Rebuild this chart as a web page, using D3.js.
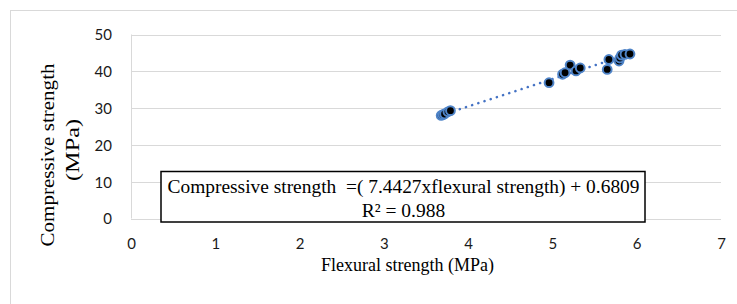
<!DOCTYPE html>
<html><head><meta charset="utf-8">
<script src="https://cdn.jsdelivr.net/npm/d3@7"></script>
<style>body{margin:0;background:#fff}svg{display:block}</style>
</head><body>
<script>
const flexural = [3.68, 3.70, 3.72, 3.76, 3.79, 4.96, 5.12, 5.15, 5.21, 5.28, 5.33, 5.65, 5.67, 5.79, 5.80, 5.82, 5.86, 5.92];
const compressive = [28.0, 28.2, 28.4, 29.0, 29.3, 36.9, 39.2, 39.6, 41.7, 40.1, 40.9, 40.5, 43.2, 42.8, 43.6, 44.4, 44.6, 44.7];
const xTicks = [0, 1, 2, 3, 4, 5, 6, 7];
const yTicks = [0, 10, 20, 30, 40, 50];
const slope = 7.4427, intercept = 0.6809;
const eqLine1 = "Compressive strength  =( 7.4427xflexural strength) + 0.6809";
const eqLine2 = "R² = 0.988";

const W = 737, H = 304;
const svg = d3.select("body").append("svg").attr("width", W).attr("height", H);
svg.append("rect").attr("x", 10.5).attr("y", 10.5).attr("width", W).attr("height", H)
  .attr("fill", "#fff").attr("stroke", "#d9d9d9");

const x = d3.scaleLinear().domain([0, 7]).range([131, 721]);
const y = d3.scaleLinear().domain([0, 50]).range([218.5, 34.5]);
const sans = "Lato, 'Open Sans', sans-serif";
const serif = "'Liberation Serif', 'Times New Roman', serif";

// gridlines
svg.append("g").selectAll("line").data(yTicks).join("line")
  .attr("x1", x(0)).attr("x2", x(7)).attr("y1", d => Math.round(y(d)) + 0.5).attr("y2", d => Math.round(y(d)) + 0.5)
  .attr("stroke", "#d9d9d9").attr("stroke-width", 1);
svg.append("line").attr("x1", x(0) + 0.5).attr("x2", x(0) + 0.5).attr("y1", y(50)).attr("y2", y(0))
  .attr("stroke", "#d9d9d9");

// axis labels via d3 axes
const yAxis = svg.append("g").attr("transform", `translate(${x(0) - 19},0)`)
  .call(d3.axisLeft(y).tickValues(yTicks).tickFormat(d3.format("d")).tickSize(0).tickPadding(0));
yAxis.select(".domain").remove();
yAxis.selectAll("text").attr("font-family", sans).attr("font-size", 15).attr("fill", "#1a1a1a").attr("dy", "0.36em");

const xAxis = svg.append("g").attr("transform", `translate(0,${y(0) + 19.5})`)
  .call(d3.axisBottom(x).tickValues(xTicks).tickFormat(d3.format("d")).tickSize(0).tickPadding(0));
xAxis.select(".domain").remove();
xAxis.selectAll("text").attr("font-family", sans).attr("font-size", 15).attr("fill", "#1a1a1a").attr("dy", "0.71em");

// trendline
const xmin = d3.min(flexural), xmax = d3.max(flexural);
svg.append("line")
  .attr("x1", x(xmin)).attr("y1", y(slope * xmin + intercept))
  .attr("x2", x(xmax)).attr("y2", y(slope * xmax + intercept))
  .attr("stroke", "#4472c4").attr("stroke-width", 2.5)
  .attr("stroke-dasharray", "0.1 6.4").attr("stroke-linecap", "round");

// points
svg.append("g").selectAll("circle").data(flexural.map((v, i) => [v, compressive[i]])).join("circle")
  .attr("cx", d => x(d[0])).attr("cy", d => y(d[1])).attr("r", 4.4)
  .attr("fill", "#000").attr("stroke", "#4f84c8").attr("stroke-width", 2);

// equation box
svg.append("rect").attr("x", 161).attr("y", 171.5).attr("width", 484).attr("height", 50.5)
  .attr("fill", "#fff").attr("stroke", "#000").attr("stroke-width", 1.5);
svg.append("text").attr("x", 403.5).attr("y", 192.5).attr("text-anchor", "middle")
  .attr("font-family", serif).attr("font-size", 19.5).attr("fill", "#000").style("white-space", "pre")
  .attr("textLength", 472).attr("lengthAdjust", "spacingAndGlyphs").text(eqLine1);
svg.append("text").attr("x", 403.5).attr("y", 216.5).attr("text-anchor", "middle")
  .attr("font-family", serif).attr("font-size", 19.5).attr("fill", "#000").text(eqLine2);

// axis titles
svg.append("text").attr("x", 407.5).attr("y", 271).attr("text-anchor", "middle")
  .attr("font-family", serif).attr("font-size", 18).attr("fill", "#000").text("Flexural strength (MPa)");
const yt = svg.append("g").attr("transform", "translate(0,155) rotate(-90)");
yt.append("text").attr("x", 0).attr("y", 54).attr("text-anchor", "middle")
  .attr("font-family", serif).attr("font-size", 19).attr("fill", "#000")
  .attr("textLength", 183).attr("lengthAdjust", "spacingAndGlyphs").text("Compressive strength");
yt.append("text").attr("x", 5).attr("y", 78.5).attr("text-anchor", "middle")
  .attr("font-family", serif).attr("font-size", 19).attr("fill", "#000")
  .attr("textLength", 62).attr("lengthAdjust", "spacingAndGlyphs").text("(MPa)");
</script>
</body></html>
